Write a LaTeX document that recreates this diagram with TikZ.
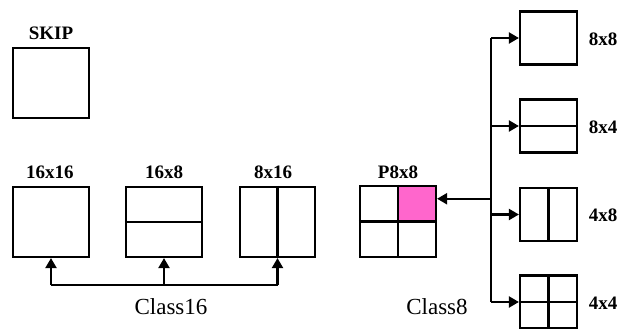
\documentclass[tikz,border=0pt]{standalone}
\usepackage{fontspec}
\setmainfont{Liberation Serif}
\usetikzlibrary{arrows.meta}
\definecolor{cellpink}{HTML}{FF66CC}
\newcommand{\SizeText}[1]{{\fontsize{19}{19}\selectfont\bfseries #1}}
\newcommand{\ClassText}[1]{{\fontsize{23}{23}\selectfont #1}}

\begin{document}
\begin{tikzpicture}[x=1pt,y=-1pt,
    blk/.style={draw,line width=2.2pt,minimum width=76pt,minimum height=70pt,inner sep=0pt},
    sblk/.style={blk,minimum width=57pt,minimum height=53pt},
    conn/.style={line width=2.2pt},
    arr/.style={conn,-{Triangle[length=10pt,width=11pt]}}]
    \useasboundingbox (0,0) rectangle (625,329);
    % class 16 blocks
    \node[blk] (skip) at (51,83) {};
    \node[blk] (b16x16) at (51,222) {};
    \node[blk] (b16x8) at (164,222) {};
    \node[blk,minimum width=75pt] (b8x16) at (277.5,222) {};
    \draw[conn] (b16x8.west) -- (b16x8.east);
    \draw[conn] (b8x16.north) -- (b8x16.south);
    \node (lskip) at (51,33) {\SizeText{SKIP}};
    \node (l16x16) at (50,172) {\SizeText{16x16}};
    \node (l16x8) at (164,172) {\SizeText{16x8}};
    \node (l8x16) at (273,172) {\SizeText{8x16}};
    %
    \coordinate (bus16) at (164,285);
    \draw[conn] (bus16 -| b16x16.south) -- (bus16 -| b8x16.south);
    \draw[arr] (bus16 -| b16x16.south) -- (b16x16.south);
    \draw[arr] (bus16) -- (b16x8.south);
    \draw[arr] (bus16 -| b8x16.south) -- (b8x16.south);
    \node (c16) at (171,307) {\ClassText{Class16}};
    % class 8 blocks
    \node[blk,fill=cellpink,minimum width=38pt,minimum height=35.5pt] (pcell) at (417,203.75) {};
    \node[blk,minimum height=71pt] (p8x8) at (398,221.5) {};
    \draw[conn] (p8x8.north) -- (p8x8.south);
    \draw[conn] (p8x8.west) -- (p8x8.east);
    \node (lp8x8) at (398,172) {\SizeText{P8x8}};
    %
    \node[sblk] (r8x8) at (548.5,38) {};
    \node[sblk] (r8x4) at (548.5,126) {};
    \node[sblk] (r4x8) at (548.5,214.5) {};
    \node[sblk] (r4x4) at (548.5,302) {};
    \draw[conn] (r8x4.west) -- (r8x4.east);
    \draw[conn] (r4x8.north) -- (r4x8.south);
    \draw[conn] (r4x4.north) -- (r4x4.south);
    \draw[conn] (r4x4.west) -- (r4x4.east);
    \node (l8x8) at (603,39) {\SizeText{8x8}};
    \node (l8x4) at (603,127) {\SizeText{8x4}};
    \node (l4x8) at (603,215) {\SizeText{4x8}};
    \node (l4x4) at (603,303) {\SizeText{4x4}};
    %
    \coordinate (trunk) at (491,0);
    \coordinate (ptip) at ([yshift=5pt]pcell.east);
    \draw[conn] (trunk |- r8x8.west) -- (trunk |- r4x4.west);
    \draw[arr] (trunk |- r8x8.west) -- (r8x8.west);
    \draw[arr] (trunk |- r8x4.west) -- (r8x4.west);
    \draw[arr] (trunk |- r4x8.west) -- (r4x8.west);
    \draw[arr] (trunk |- r4x4.west) -- (r4x4.west);
    \draw[arr] (trunk |- ptip) -- (ptip);
    \node (c8) at (437,307) {\ClassText{Class8}};
\end{tikzpicture}
\end{document}
